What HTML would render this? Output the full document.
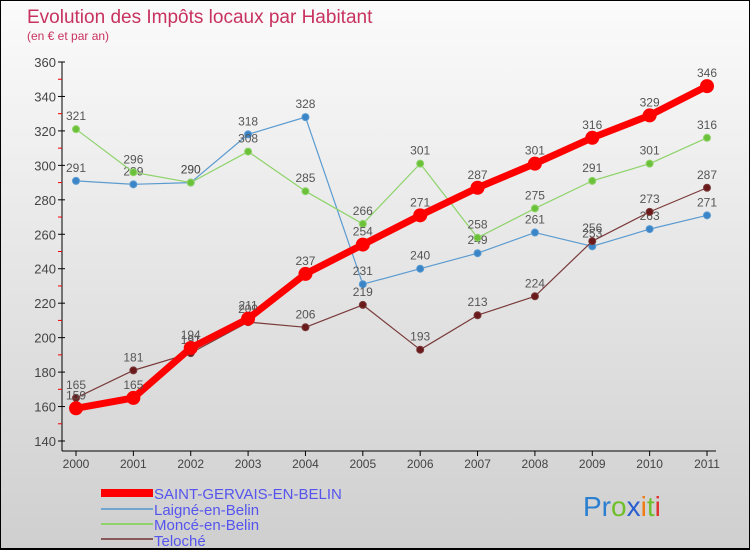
<!DOCTYPE html>
<html><head><meta charset="utf-8"><style>
body{margin:0}
#c{width:750px;height:550px;position:relative;overflow:hidden;background:linear-gradient(#fbfbfb,#cfcfcf);box-sizing:border-box;border:1px solid #000;border-bottom:2px solid #000;font-family:"Liberation Sans","DejaVu Sans",sans-serif}
</style></head><body>
<div id="c">
<svg width="750" height="550" style="position:absolute;left:0;top:0" id="svg">
<text x="26" y="22" font-size="19" fill="#c8325f">Evolution des Impôts locaux par Habitant</text>
<text x="26" y="39" font-size="12" fill="#c8325f">(en € et par an)</text>
<g id="axes"></g><g id="series"></g>
<g>
<rect x="100" y="488" width="52" height="8" fill="#f00"/>
<text x="153" y="498" font-size="15" fill="#5555ee">SAINT-GERVAIS-EN-BELIN</text>
<line x1="100" y1="508" x2="152" y2="508" stroke="#6fa5cf" stroke-width="2"/>
<text x="153" y="514" font-size="15" fill="#5555ee">Laigné-en-Belin</text>
<line x1="100" y1="523" x2="152" y2="523" stroke="#8fd36a" stroke-width="2"/>
<text x="153" y="529" font-size="15" fill="#5555ee">Moncé-en-Belin</text>
<line x1="100" y1="538" x2="152" y2="538" stroke="#8a5a5a" stroke-width="2"/>
<text x="153" y="545" font-size="15" fill="#5555ee">Teloché</text>
</g>
<g font-size="28">
<text x="582" y="515"><tspan fill="#2a7fd0">Pr</tspan><tspan fill="#6fbf2a">o</tspan><tspan fill="#2a5fd0">x</tspan><tspan fill="#f07a10">i</tspan><tspan fill="#6fbf2a">t</tspan><tspan fill="#e03030">i</tspan></text>
</g>
</svg>
</div>
<script>
const years=[2000,2001,2002,2003,2004,2005,2006,2007,2008,2009,2010,2011];
const yTicks=[140,160,180,200,220,240,260,280,300,320,340,360];
const saint=[159,165,194,211,237,254,271,287,301,316,329,346];
const laigne=[291,289,290,318,328,231,240,249,261,253,263,271];
const monce=[321,296,290,308,285,266,301,258,275,291,301,316];
const teloche=[165,181,191,209,206,219,193,213,224,256,273,287];
const NS='http://www.w3.org/2000/svg';
const X=i=>75+i*(706-75)/11;
const Y=v=>440-(v-140)*(440-61)/220;
function mk(t,a,p){const e=document.createElementNS(NS,t);for(const k in a)e.setAttribute(k,a[k]);p.appendChild(e);return e;}
const ax=document.getElementById('axes');
mk('line',{x1:61,y1:61,x2:61,y2:450,stroke:'#000'},ax);
mk('line',{x1:61,y1:450,x2:715,y2:450,stroke:'#000'},ax);
yTicks.forEach(v=>{
 mk('line',{x1:57,y1:Y(v),x2:64,y2:Y(v),stroke:'#000'},ax);
 if(v<360)mk('line',{x1:57,y1:Y(v+10),x2:61,y2:Y(v+10),stroke:'#e00'},ax);
 const t=mk('text',{x:55,y:Y(v)+5,'font-size':13,fill:'#444','text-anchor':'end'},ax);
 
 
 t.textContent=v;
});
years.forEach((y,i)=>{
 mk('line',{x1:X(i),y1:450,x2:X(i),y2:455,stroke:'#000'},ax);
 const t=mk('text',{x:X(i),y:467,'font-size':12,fill:'#444','text-anchor':'middle'},ax);
 
 
 t.textContent=y;
});
const sg=document.getElementById('series');
function series(d,name,col,dot,w,r){
 const g=mk('g',{},sg);
 
 
 mk('polyline',{points:d.map((v,i)=>X(i)+','+Y(v)).join(' '),fill:'none',stroke:col,'stroke-width':w,'stroke-linejoin':'round'},g);
 d.forEach((v,i)=>{
  const c=mk('circle',{cx:X(i),cy:Y(v),r:r,fill:dot,stroke:col,'stroke-width':1},g);
  
  
  const t=mk('text',{x:X(i),y:Y(v)-9,'font-size':12,fill:'#555','text-anchor':'middle'},g);
  
  
  t.textContent=v;
 });
}
series(laigne,'laigne-series','#5b9bd0','#3a85c8',1.2,3.5);
series(monce,'monce-series','#8fd36a','#6cc13a',1.2,3.5);
series(teloche,'teloche-series','#7a3a3a','#6a1a1a',1.2,3.5);
series(saint,'saint-gervais-series','#f00','#f00',7,6.5);
</script>
</body></html>
